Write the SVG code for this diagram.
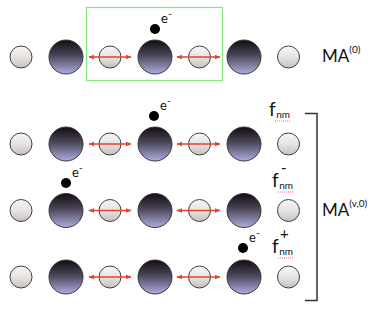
<svg xmlns="http://www.w3.org/2000/svg" width="374" height="313" viewBox="0 0 374 313">
<defs>
<linearGradient id="gBig" x1="0" y1="0" x2="0" y2="1">
<stop offset="0" stop-color="#120c10"/>
<stop offset="0.45" stop-color="#4a4558"/>
<stop offset="1" stop-color="#aeaee0"/>
</linearGradient>
<linearGradient id="gSmall" x1="0" y1="0" x2="0" y2="1">
<stop offset="0" stop-color="#f7f7f5"/>
<stop offset="0.5" stop-color="#e6e4e2"/>
<stop offset="1" stop-color="#c6c0bf"/>
</linearGradient>
<marker id="ah" viewBox="0 0 10 10" refX="9" refY="5" markerWidth="6" markerHeight="6" orient="auto-start-reverse" markerUnits="userSpaceOnUse">
<path d="M0,1 L10,5 L0,9 Z" fill="#e8432c"/>
</marker>
<circle id="big" r="17" fill="url(#gBig)" stroke="#3a3a3a" stroke-width="1"/>
<circle id="small" r="11" fill="url(#gSmall)" stroke="#404040" stroke-width="1"/>
</defs>
<style>
.t{font-family:Lato,"Open Sans","Liberation Sans",sans-serif;fill:#111}
.ma{font-size:17px}
.sup{font-size:10px}
.e{font-size:13px}
.f{font-size:19px}
.sub{font-size:10px}
.pm{font-size:15px}
.arr{stroke:#e8432c;stroke-width:1.6;fill:none;marker-start:url(#ah);marker-end:url(#ah)}
.sq{stroke:#e05050;stroke-width:0.8;stroke-dasharray:1 1;fill:none}
</style>
<rect x="86.5" y="7.5" width="136" height="73" fill="none" stroke="#84e87c" stroke-width="1.2"/>
<g id="row0">
<use href="#small" x="21" y="57"/><use href="#big" x="66" y="57"/><use href="#small" x="110" y="57"/><use href="#big" x="155" y="57"/><use href="#small" x="199.5" y="57"/><use href="#big" x="244" y="57"/><use href="#small" x="288.5" y="57"/>
</g>
<g id="row1">
<use href="#small" x="21" y="144"/><use href="#big" x="66" y="144"/><use href="#small" x="110" y="144"/><use href="#big" x="155" y="144"/><use href="#small" x="199.5" y="144"/><use href="#big" x="244" y="144"/><use href="#small" x="288.5" y="144"/>
</g>
<g id="row2">
<use href="#small" x="21" y="210.5"/><use href="#big" x="66" y="210.5"/><use href="#small" x="110" y="210.5"/><use href="#big" x="155" y="210.5"/><use href="#small" x="199.5" y="210.5"/><use href="#big" x="244" y="210.5"/><use href="#small" x="288.5" y="210.5"/>
</g>
<g id="row3">
<use href="#small" x="21" y="277"/><use href="#big" x="66" y="277"/><use href="#small" x="110" y="277"/><use href="#big" x="155" y="277"/><use href="#small" x="199.5" y="277"/><use href="#big" x="244" y="277"/><use href="#small" x="288.5" y="277"/>
</g>
<g id="connectors">
<line class="arr" x1="89" y1="57" x2="131" y2="57"/>
<line class="arr" x1="177" y1="57" x2="220" y2="57"/>
<line class="arr" x1="89" y1="144" x2="131" y2="144"/>
<line class="arr" x1="177" y1="144" x2="220" y2="144"/>
<line class="arr" x1="89" y1="210.5" x2="131" y2="210.5"/>
<line class="arr" x1="177" y1="210.5" x2="220" y2="210.5"/>
<line class="arr" x1="89" y1="277" x2="131" y2="277"/>
<line class="arr" x1="177" y1="277" x2="220" y2="277"/>
</g>
<g id="electron0">
<circle cx="155" cy="29" r="5" fill="#000"/>
<text class="t e" x="161" y="23">e<tspan class="sup" dy="-6">-</tspan></text>
</g>
<g id="electron1">
<circle cx="154" cy="116" r="5" fill="#000"/>
<text class="t e" x="160" y="110">e<tspan class="sup" dy="-6">-</tspan></text>
</g>
<g id="electron2">
<circle cx="66" cy="183" r="5" fill="#000"/>
<text class="t e" x="72" y="177">e<tspan class="sup" dy="-6">-</tspan></text>
</g>
<g id="electron3">
<circle cx="243" cy="248" r="5" fill="#000"/>
<text class="t e" x="249" y="242">e<tspan class="sup" dy="-6">-</tspan></text>
</g>
<g id="label-ma0">
<text class="t ma" x="322" y="62">MA<tspan class="sup" dy="-9" font-size="12">(0)</tspan></text>
</g>
<g id="label-fnm">
<text class="t f" x="269" y="116">f<tspan class="sub" dy="2" dx="0.5">nm</tspan></text>
<path class="sq" d="M275,121 H291"/>
</g>
<g id="label-fnm-minus">
<text class="t f" x="272" y="187">f<tspan class="sub" dy="2" dx="0.5">nm</tspan></text>
<text class="t pm" x="281" y="173">-</text>
<path class="sq" d="M278,192 H294"/>
</g>
<g id="label-fnm-plus">
<text class="t f" x="272" y="253">f<tspan class="sub" dy="2" dx="0.5">nm</tspan></text>
<text class="t pm" x="280" y="239">+</text>
<path class="sq" d="M278,258 H294"/>
</g>
<g id="bracket">
<path d="M305,113.5 H317 V300.5 H305" fill="none" stroke="#333" stroke-width="1.5"/>
</g>
<g id="label-mav0">
<text class="t ma" x="322" y="216">MA<tspan class="sup" dy="-9" font-size="12">(v,0)</tspan></text>
</g>
</svg>
